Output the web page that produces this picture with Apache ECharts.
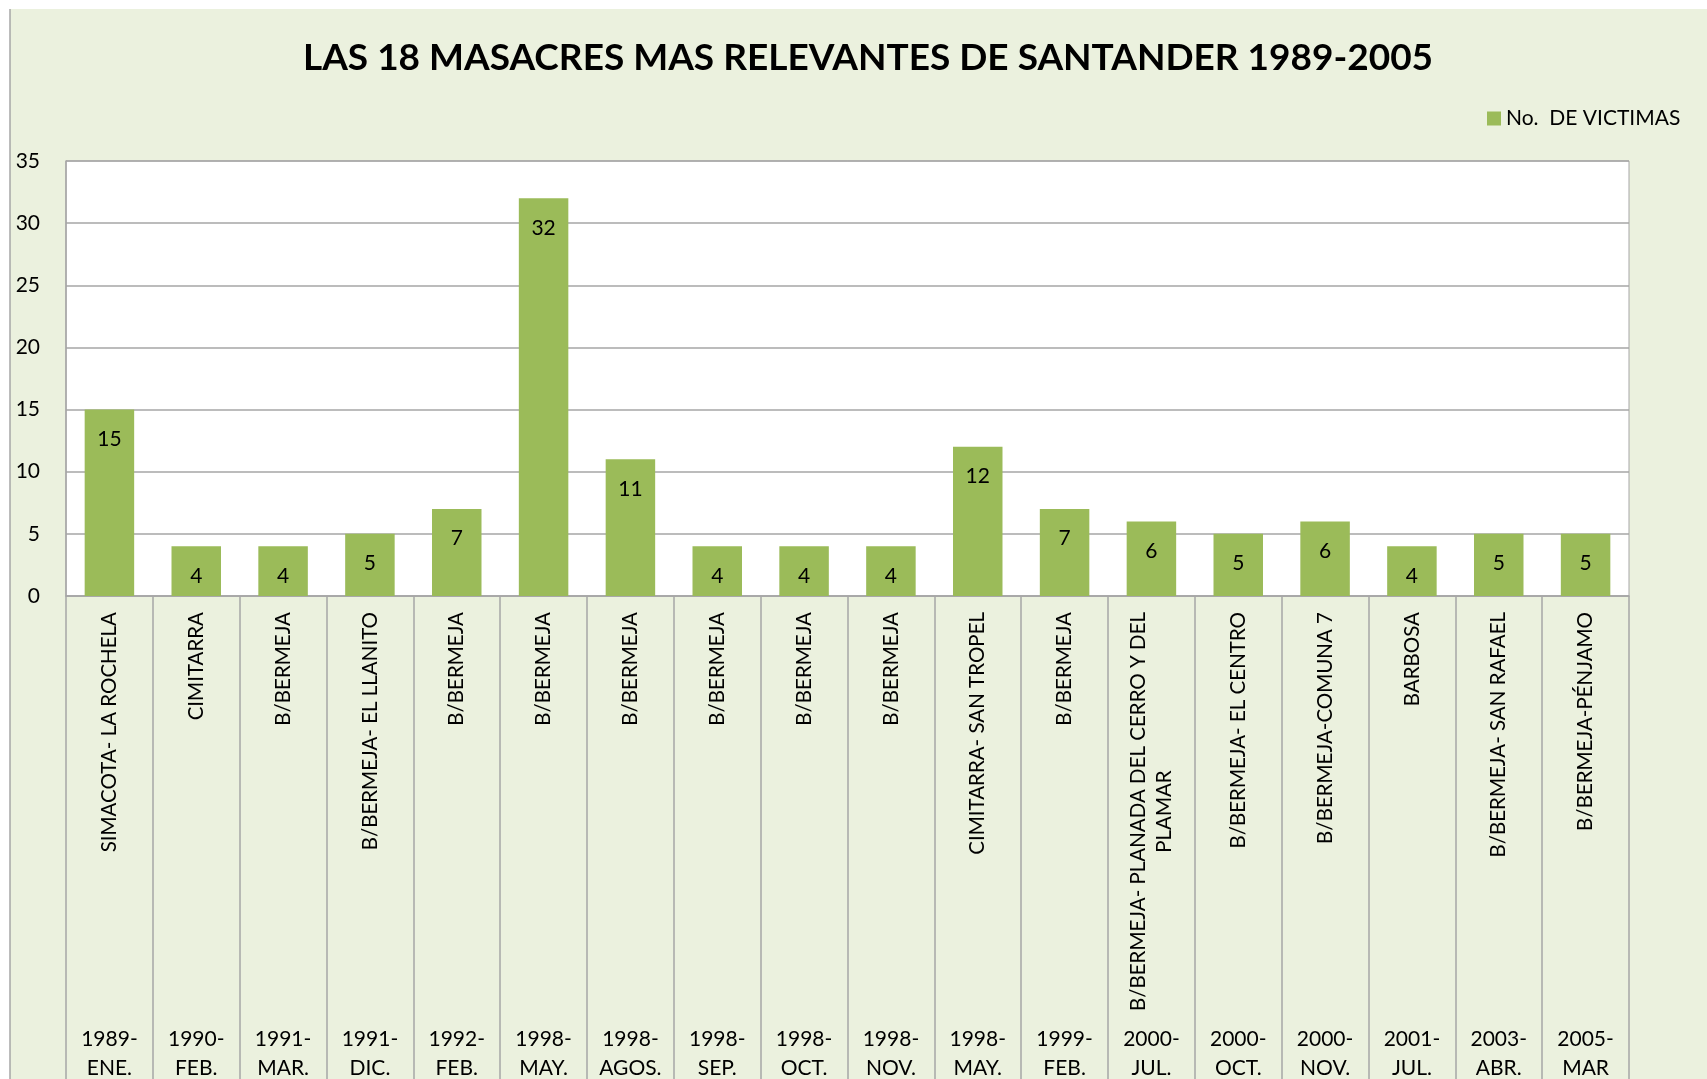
<!DOCTYPE html>
<html>
<head>
<meta charset="utf-8">
<script src="https://cdn.jsdelivr.net/npm/echarts@6/dist/echarts.min.js"></script>
<style>
html,body{margin:0;padding:0;background:#fff;}
#chart{width:1707px;height:1079px;}
</style>
</head>
<body>
<div id="chart"></div>
<script>
const titleText = 'LAS 18 MASACRES MAS RELEVANTES DE SANTANDER 1989-2005';
const seriesName = 'No.  DE VICTIMAS';
const places = ['SIMACOTA- LA ROCHELA','CIMITARRA','B/BERMEJA','B/BERMEJA- EL LLANITO','B/BERMEJA','B/BERMEJA','B/BERMEJA','B/BERMEJA','B/BERMEJA','B/BERMEJA','CIMITARRA- SAN TROPEL','B/BERMEJA','B/BERMEJA- PLANADA DEL CERRO Y DEL\nPLAMAR','B/BERMEJA- EL CENTRO','B/BERMEJA-COMUNA 7','BARBOSA','B/BERMEJA- SAN RAFAEL','B/BERMEJA-PÉNJAMO'];
const dates = ['1989-\nENE.','1990-\nFEB.','1991-\nMAR.','1991-\nDIC.','1992-\nFEB.','1998-\nMAY.','1998-\nAGOS.','1998-\nSEP.','1998-\nOCT.','1998-\nNOV.','1998-\nMAY.','1999-\nFEB.','2000-\nJUL.','2000-\nOCT.','2000-\nNOV.','2001-\nJUL.','2003-\nABR.','2005-\nMAR'];
const victims = [15,4,4,5,7,32,11,4,4,4,12,7,6,5,6,4,5,5];

const FONT = 'Lato';
const GRAY = '#A6A6A6';
const chart = echarts.init(document.getElementById('chart'));
chart.setOption({
  backgroundColor: '#EBF1DE',
  animation: false,
  textStyle: { fontFamily: FONT },
  title: {
    text: titleText,
    left: 863, top: 35, textAlign: 'center',
    textStyle: { fontFamily: FONT, fontWeight: 'bold', fontSize: 37, color: '#000' }
  },
  legend: {
    left: 1482, top: 103,
    itemWidth: 14, itemHeight: 14,
    icon: 'rect',
    textStyle: { fontFamily: FONT, fontSize: 21, color: '#000' },
    data: [seriesName]
  },
  graphic: [
    { type: 'rect', shape: { x: 0, y: 0, width: 1707, height: 9 }, style: { fill: '#fff' }, silent: true },
    { type: 'rect', shape: { x: 0, y: 0, width: 10, height: 1079 }, style: { fill: '#fff' }, silent: true },
    { type: 'line', shape: { x1: 10, y1: 9, x2: 10, y2: 1079 }, style: { stroke: GRAY, lineWidth: 1.5 }, silent: true }
  ],
  grid: {
    left: 66, top: 161, right: 78, bottom: 483,
    outerBoundsMode: 'none',
    show: true, backgroundColor: '#fff', borderColor: GRAY, borderWidth: 1
  },
  xAxis: [
    {
      type: 'category', data: places, position: 'bottom',
      axisLine: { lineStyle: { color: GRAY, width: 1.5 } },
      axisTick: { show: true, interval: 0, length: 483, lineStyle: { color: GRAY, width: 1.5 } },
      axisLabel: {
        interval: 0, rotate: 90, margin: 16,
        fontFamily: FONT, fontSize: 20.5, color: '#000',
        formatter: function (v) {
          return v.split('\n').map(function (s) { return '{c|' + s + '}'; }).join('\n');
        },
        rich: { c: { align: 'center', fontFamily: FONT, fontSize: 20.5, color: '#000', lineHeight: 26 } }
      }
    },
    {
      type: 'category', data: dates, position: 'bottom',
      axisLine: { show: false }, axisTick: { show: false },
      axisLabel: { interval: 0, margin: 429, fontFamily: FONT, fontSize: 21, color: '#000', lineHeight: 29, align: 'center' }
    }
  ],
  yAxis: {
    type: 'value', min: 0, max: 35, interval: 5,
    axisLine: { show: true, lineStyle: { color: GRAY, width: 1.5 } },
    axisTick: { show: false },
    axisLabel: { margin: 26, fontFamily: FONT, fontSize: 21, color: '#000' },
    splitLine: { lineStyle: { color: GRAY, width: 1.5 } }
  },
  series: [{
    name: seriesName, type: 'bar', data: victims,
    barWidth: '57%',
    itemStyle: { color: '#9BBB59' },
    label: { show: true, position: 'insideTop', distance: 19, fontFamily: FONT, fontSize: 21, color: '#000' }
  }]
});
</script>
</body>
</html>
